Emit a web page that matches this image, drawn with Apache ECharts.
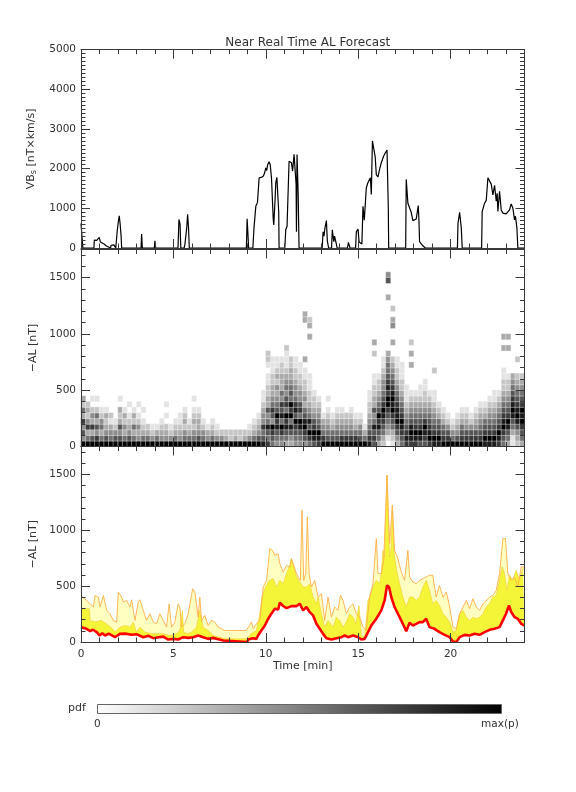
<!DOCTYPE html>
<html><head><meta charset="utf-8">
<script src="https://cdn.jsdelivr.net/npm/echarts@6.0.0/dist/echarts.min.js"></script>
<style>html,body{margin:0;padding:0;background:#fff}#c{width:576px;height:792px}</style>
</head><body><div id="c"></div>
<script>
const FONT = 'DejaVu Sans';
const AX = '#3a3a3a';
const TXT = '#333';

const titleText = 'Near Real Time AL Forecast';
const timeName = 'Time [min]';
const vbsName = 'VB{sub|s} [nT×km/s]';
const alName = '−AL [nT]';

// Panel 1: V*Bs [nT x km/s] vs time [min]
const vbsData = [[0,620],[0.05,600],[0.1,0],[0.7,0],[0.72,200],[0.78,170],[0.85,190],[0.92,150],[0.99,270],[1.05,150],[1.15,120],[1.25,100],[1.3,80],[1.38,50],[1.42,0],[1.6,0],[1.63,70],[1.7,60],[1.78,80],[1.84,60],[1.88,0],[1.93,0],[1.96,430],[2.03,700],[2.07,810],[2.12,600],[2.17,300],[2.2,0],[3.25,0],[3.28,350],[3.32,0],[3.97,0],[4.0,180],[4.04,0],[5.25,0],[5.3,720],[5.36,600],[5.4,0],[5.58,0],[5.62,80],[5.68,60],[5.72,500],[5.77,850],[5.82,500],[5.86,0],[6.35,0],[6.38,40],[6.42,0],[8.95,0],[8.99,735],[9.04,300],[9.07,0],[9.3,0],[9.36,500],[9.46,1050],[9.55,1150],[9.64,1770],[9.75,1780],[9.86,1810],[9.92,1870],[10.0,2020],[10.05,1950],[10.1,2100],[10.18,2175],[10.24,2100],[10.31,1760],[10.4,750],[10.43,580],[10.5,1200],[10.54,1640],[10.6,1780],[10.67,1760],[10.7,900],[10.72,0],[11.03,0],[11.08,460],[11.15,550],[11.26,2190],[11.33,2150],[11.39,2150],[11.45,1940],[11.48,2100],[11.53,2360],[11.6,2350],[11.64,1600],[11.66,410],[11.69,2360],[11.75,1400],[11.8,0],[13.05,0],[13.1,410],[13.15,300],[13.2,500],[13.28,690],[13.33,180],[13.4,0],[13.56,0],[13.6,460],[13.68,160],[13.72,300],[13.77,350],[13.82,100],[13.86,0],[14.42,0],[14.47,140],[14.52,100],[14.56,0],[14.86,0],[14.9,410],[14.99,480],[15.05,150],[15.12,180],[15.2,100],[15.26,1050],[15.33,700],[15.44,1520],[15.52,1640],[15.6,1650],[15.66,1770],[15.71,1350],[15.77,2700],[15.86,2650],[15.92,2300],[15.98,1850],[16.07,1790],[16.16,1990],[16.25,2150],[16.3,2130],[16.38,2320],[16.47,2400],[16.56,2470],[16.61,2440],[16.63,1000],[16.65,0],[17.57,0],[17.6,1730],[17.69,1130],[17.78,1120],[17.87,900],[17.96,690],[18.05,680],[18.14,730],[18.2,720],[18.25,1070],[18.29,680],[18.32,160],[18.38,120],[18.47,70],[18.54,40],[18.63,0],[20.37,0],[20.4,620],[20.49,900],[20.58,500],[20.63,0],[21.68,0],[21.71,920],[21.84,1130],[21.93,1200],[22.02,1770],[22.11,1800],[22.2,1610],[22.29,1340],[22.38,1580],[22.47,1180],[22.52,1380],[22.56,920],[22.65,1430],[22.74,960],[22.83,880],[22.92,830],[23.01,860],[23.1,840],[23.19,960],[23.28,1110],[23.37,1010],[23.46,710],[23.51,800],[23.59,500],[23.64,0],[24,0]];

// Panel 3: forecast -AL [nT]: median (red), inner band top (yellow), outer band top (pale yellow / orange)
const alMedian = [[0,133],[0.3,118],[0.5,97],[0.65,110],[0.85,88],[1.0,58],[1.15,79],[1.3,58],[1.5,75],[1.84,43],[2.1,73],[2.38,75],[2.75,65],[3.0,70],[3.37,43],[3.65,55],[3.91,34],[4.2,43],[4.45,48],[4.72,22],[5.0,28],[5.26,22],[5.53,43],[5.8,37],[6.07,43],[6.34,58],[6.61,43],[6.88,28],[7.15,37],[7.43,25],[7.7,13],[7.78,0],[8.99,0],[9.05,22],[9.3,34],[9.49,28],[9.58,58],[9.76,103],[9.95,148],[10.13,208],[10.31,256],[10.49,298],[10.67,290],[10.76,352],[10.94,322],[11.12,303],[11.39,321],[11.66,321],[11.84,343],[12.02,283],[12.2,313],[12.38,267],[12.56,238],[12.74,163],[12.92,118],[13.1,73],[13.28,34],[13.55,22],[13.82,34],[14.09,43],[14.27,58],[14.45,43],[14.72,58],[15.0,43],[15.17,22],[15.35,28],[15.53,88],[15.71,148],[15.98,208],[16.25,283],[16.43,372],[16.56,507],[16.67,493],[16.79,403],[16.97,313],[17.24,223],[17.46,148],[17.6,97],[17.78,172],[17.96,148],[18.14,163],[18.32,178],[18.5,178],[18.68,208],[18.86,133],[19.13,118],[19.4,88],[19.68,64],[19.95,43],[20.13,4],[20.31,0],[20.49,43],[20.76,64],[21.03,58],[21.3,73],[21.57,64],[21.84,88],[22.11,109],[22.38,118],[22.65,133],[22.83,193],[23.0,253],[23.16,327],[23.28,268],[23.46,223],[23.64,208],[23.82,163],[24,148]];

const alInner = [[0,298],[0.45,298],[0.5,190],[0.8,180],[1.1,193],[1.4,160],[1.7,120],[1.84,88],[2.1,133],[2.4,148],[2.65,133],[2.83,178],[3.0,88],[3.2,133],[3.46,88],[3.9,73],[4.45,73],[4.8,58],[5.15,73],[5.35,103],[5.49,283],[5.55,88],[5.75,73],[5.98,88],[6.25,133],[6.43,283],[6.6,133],[6.88,103],[7.15,58],[7.5,43],[7.78,28],[8.99,28],[9.2,73],[9.49,103],[9.65,222],[9.8,402],[9.98,492],[10.2,552],[10.4,567],[10.58,492],[10.76,552],[10.94,522],[11.12,612],[11.3,686],[11.39,746],[11.48,731],[11.66,582],[11.84,537],[12.02,492],[12.2,492],[12.38,522],[12.56,402],[12.74,342],[12.83,402],[13.01,253],[13.19,133],[13.37,193],[13.64,133],[13.82,222],[14.0,193],[14.18,133],[14.36,178],[14.54,253],[14.72,222],[14.87,163],[15.04,327],[15.17,58],[15.35,43],[15.53,372],[15.62,402],[15.8,492],[15.98,552],[16.16,522],[16.25,612],[16.34,821],[16.43,761],[16.56,1493],[16.61,1209],[16.7,761],[16.79,851],[16.85,1224],[16.92,821],[17.06,657],[17.24,522],[17.42,402],[17.6,313],[17.78,402],[17.96,402],[18.14,372],[18.32,402],[18.5,492],[18.68,552],[18.86,462],[19.04,342],[19.22,372],[19.4,327],[19.59,253],[19.77,222],[19.95,178],[20.13,88],[20.31,103],[20.49,253],[20.67,283],[20.85,222],[21.03,193],[21.21,222],[21.39,208],[21.57,222],[21.75,253],[21.93,313],[22.11,342],[22.29,402],[22.47,417],[22.65,552],[22.79,672],[22.92,612],[23.05,462],[23.19,597],[23.37,552],[23.55,642],[23.73,552],[23.91,657],[24,657]];

const alOuter = [[0,417],[0.3,372],[0.49,342],[0.67,313],[0.76,417],[0.94,402],[1.03,313],[1.21,417],[1.39,283],[1.57,253],[1.75,193],[1.93,178],[2.02,447],[2.2,402],[2.29,357],[2.47,372],[2.65,313],[2.74,378],[2.92,193],[3.1,357],[3.19,378],[3.37,283],[3.55,193],[3.73,253],[3.91,178],[4.09,163],[4.27,253],[4.45,193],[4.63,133],[4.77,342],[4.9,133],[5.08,178],[5.26,342],[5.35,313],[5.44,133],[5.62,163],[5.8,253],[6.04,477],[6.16,447],[6.25,432],[6.34,222],[6.43,402],[6.52,193],[6.7,238],[6.88,148],[7.06,193],[7.24,178],[7.43,133],[7.61,118],[7.78,103],[8.95,103],[9.05,133],[9.23,178],[9.32,118],[9.49,163],[9.68,193],[9.86,492],[10.04,552],[10.22,836],[10.36,821],[10.49,776],[10.67,791],[10.76,701],[10.94,627],[11.12,686],[11.3,672],[11.39,746],[11.48,746],[11.66,612],[11.75,582],[11.87,552],[11.96,1180],[12.05,552],[12.16,612],[12.25,1119],[12.34,612],[12.47,492],[12.65,552],[12.83,402],[13.01,432],[13.19,193],[13.37,402],[13.55,222],[13.73,313],[13.91,283],[14.04,417],[14.18,372],[14.36,253],[14.54,313],[14.72,342],[14.9,253],[15.08,222],[15.26,133],[15.44,103],[15.62,402],[15.8,522],[15.98,926],[16.07,612],[16.25,612],[16.38,731],[16.56,1493],[16.7,881],[16.85,1224],[16.97,821],[17.15,746],[17.33,627],[17.51,552],[17.69,821],[17.78,582],[17.96,537],[18.14,522],[18.32,552],[18.5,567],[18.68,582],[18.86,597],[19.04,597],[19.22,402],[19.4,507],[19.59,402],[19.77,447],[19.95,313],[20.13,133],[20.31,118],[20.49,253],[20.67,313],[20.85,372],[21.03,298],[21.21,387],[21.39,313],[21.57,283],[21.75,342],[21.93,372],[22.11,402],[22.29,417],[22.47,462],[22.65,612],[22.83,926],[22.97,926],[23.1,612],[23.28,552],[23.46,582],[23.64,492],[23.82,672],[23.96,672],[24,672]];

// Panel 2: pdf of -AL, one string per 0.25-min column, one digit per 50-nT row from 0 upward (0/. = empty .. 9 = max)
const pdfBinMinutes = 0.25;
const pdfBinNT = 50;
const pdfRowCount = 35;
const pdfColumns = [
"946473523","95374232","9637342.1","9746352.1","9535421","9643231","954312","96421",
"9646323.1","9534231","964321.1","9535231","943421.1","95321.1","9532","9421",
"9531","94321","9432.1.1","9421","95321","943211","9542321","95321",
"9542321.1","9643321","95421","9431","95321","9421","942","932",
"922","932","922","932","9421","95321","964321","8657443211",
"7568546332211.1","5679467543322111","4568796543423211","4579586745333221","35687957645432111","3468597956543322","4567968754432211","456895764432211",
"46798653432211","5796854322111","6897643221","789654321","975431","9654321.1","965321","9654321",
"9754321","975432","9754321","975321","965421","9531","8765432211","6768546332211",
"3568796543221","2356789765443211",".1345679978765543","1235679898765432","3467988765432211","567897654322111","78765432111","7898654321",
"7897654321","68976543211","678975432211","7987654321","8976543211","89765321","9765321","976421",
"95421","964321","9765321","9764321","976421","9764321","97654321","89765321",
"897654321","8976543211","7897654321","56798765432211","3568976543221","1135689876543","2346898765432","3567989765432"
];
// isolated pdf cells above the main spread: [time min, -AL nT, level]
const pdfOutliers = [[10.2,840,2],[10.2,790,2],[11.1,850,2],[12.0,1175,3],[12.0,1110,3],[12.0,780,3],[12.25,1140,2],[12.25,1060,3],[12.25,990,3],[15.85,930,3],[15.85,820,2],[16.55,1500,4],[16.55,1460,6],[16.55,1330,3],[16.8,1230,2],[16.8,1130,3],[16.8,1080,4],[16.8,930,3],[17.8,900,2],[17.8,810,3],[17.8,700,3],[19.0,690,2],[22.95,950,3],[23.2,950,3],[22.95,870,3],[23.2,870,3],[23.55,760,2]];

const colorbarLabels = ['pdf', '0', 'max(p)'];

// ---- build ----
const heat = [];
pdfColumns.forEach((s, c) => {
  for (let r = 0; r < s.length; r++) { const ch = s[r]; if (ch !== '.' && ch !== '0') heat.push([c, r, +ch]); }
});
pdfOutliers.forEach(([t, al, lv]) => heat.push([Math.floor(t / pdfBinMinutes), Math.floor(al / pdfBinNT), lv]));
const colCats = pdfColumns.map((_, i) => i);
const rowCats = Array.from({length: pdfRowCount}, (_, i) => i);

const PL = 81, PW = 443.5;
const grids = [
  {left: PL, width: PW, top: 49.7, height: 198.3},
  {left: PL, width: PW, top: 249.5, height: 197},
  {left: PL, width: PW, top: 446.5, height: 195.5},
  {left: PL, width: PW, top: 249.5, height: 197}
];

const lineMajor = {show: true, onZero: false, lineStyle: {color: AX, width: 1}};
const noLine = {show: false, onZero: false};
const tickMajor = {show: true, inside: true, length: 9, lineStyle: {color: AX, width: 1}};
const tickMinor = {show: true, inside: true, length: 4.5, lineStyle: {color: AX, width: 1}};
const lbl = {color: TXT, fontSize: 10.5, fontFamily: FONT, formatter: v => String(v)};

function xAxesFor(g, showLabel) {
  const base = {gridIndex: g, type: 'value', min: 0, max: 24, splitLine: {show: false}, z: 10, silent: true};
  return [
    Object.assign({}, base, {position: 'bottom', interval: 5, axisLine: lineMajor, axisTick: tickMajor,
      axisLabel: Object.assign({show: showLabel, showMaxLabel: false, margin: 7}, lbl),
      name: showLabel ? timeName : '', nameLocation: 'middle', nameGap: 19,
      nameTextStyle: {color: TXT, fontSize: 11, fontFamily: FONT}}),
    Object.assign({}, base, {position: 'bottom', interval: 1, axisLine: noLine, axisTick: tickMinor, axisLabel: {show: false}}),
    Object.assign({}, base, {position: 'top', interval: 5, axisLine: lineMajor, axisTick: tickMajor, axisLabel: {show: false}}),
    Object.assign({}, base, {position: 'top', interval: 1, axisLine: noLine, axisTick: tickMinor, axisLabel: {show: false}})
  ];
}
function yAxesFor(g, max, interval, minor, name) {
  const base = {gridIndex: g, type: 'value', min: 0, max: max, splitLine: {show: false}, z: 10, silent: true};
  return [
    Object.assign({}, base, {position: 'left', interval: interval, axisLine: lineMajor, axisTick: tickMajor,
      axisLabel: Object.assign({show: true, showMaxLabel: max % interval === 0, margin: 5}, lbl),
      name: name, nameLocation: 'middle', nameGap: 37,
      nameTextStyle: {color: TXT, fontSize: 11, fontFamily: FONT,
        rich: {sub: {fontSize: 8, fontFamily: FONT, color: TXT, verticalAlign: 'bottom', padding: [6, 0, 0, 0]}}}}),
    Object.assign({}, base, {position: 'left', interval: minor, axisLine: noLine, axisTick: tickMinor, axisLabel: {show: false}}),
    Object.assign({}, base, {position: 'right', interval: interval, axisLine: lineMajor, axisTick: tickMajor, axisLabel: {show: false}}),
    Object.assign({}, base, {position: 'right', interval: minor, axisLine: noLine, axisTick: tickMinor, axisLabel: {show: false}})
  ];
}

const xAxis = [].concat(xAxesFor(0, false), xAxesFor(1, false), xAxesFor(2, true),
  [{gridIndex: 3, type: 'category', data: colCats, show: false}]);
const yAxis = [].concat(yAxesFor(0, 5000, 1000, 100, vbsName), yAxesFor(1, 1750, 500, 100, alName),
  yAxesFor(2, 1750, 500, 100, alName),
  [{gridIndex: 3, type: 'category', data: rowCats, show: false}]);

const P3 = {xAxisIndex: 8, yAxisIndex: 8, type: 'line', showSymbol: false, symbol: 'none', silent: true};

const option = {
  animation: false,
  backgroundColor: '#fff',
  title: {text: titleText, left: PL + PW / 2, top: 32, textAlign: 'center',
    textStyle: {fontSize: 12, fontWeight: 'normal', color: TXT, fontFamily: FONT}},
  grid: grids,
  xAxis: xAxis,
  yAxis: yAxis,
  visualMap: {show: false, type: 'continuous', min: 0, max: 9, seriesIndex: 1,
    inRange: {color: ['#ffffff', '#000000']}},
  series: [
    {type: 'line', xAxisIndex: 0, yAxisIndex: 0, data: vbsData, showSymbol: false, symbol: 'none',
      lineStyle: {color: '#000', width: 1.2}, silent: true, z: 3},
    {type: 'heatmap', xAxisIndex: 12, yAxisIndex: 12, data: heat, silent: true, progressive: 0,
      itemStyle: {borderWidth: 0.7, borderColor: 'rgba(255,255,255,0.55)'}},
    Object.assign({}, P3, {data: alOuter, lineStyle: {width: 0}, areaStyle: {color: '#ffffc2', opacity: 1}, z: 2}),
    Object.assign({}, P3, {data: alInner, lineStyle: {color: '#f2d23a', width: 0.7}, areaStyle: {color: '#f4f438', opacity: 1}, z: 3}),
    Object.assign({}, P3, {data: alMedian, lineStyle: {width: 0}, areaStyle: {color: '#ffffff', opacity: 1}, z: 4}),
    Object.assign({}, P3, {data: alOuter, lineStyle: {color: '#ffb04a', width: 0.9}, z: 5}),
    Object.assign({}, P3, {data: alMedian, lineStyle: {color: '#ff0000', width: 2.6}, z: 6})
  ],
  graphic: [
    {type: 'rect', left: 97, top: 704, shape: {width: 404, height: 9},
      style: {fill: new echarts.graphic.LinearGradient(0, 0, 1, 0, [{offset: 0, color: '#ffffff'}, {offset: 1, color: '#000000'}]),
        stroke: '#666', lineWidth: 1}},
    {type: 'text', left: 68, top: 703, style: {text: colorbarLabels[0], fill: TXT, font: '11px "DejaVu Sans"'}},
    {type: 'text', left: 94, top: 719, style: {text: colorbarLabels[1], fill: TXT, font: '10.5px "DejaVu Sans"'}},
    {type: 'text', left: 481, top: 719, style: {text: colorbarLabels[2], fill: TXT, font: '10.5px "DejaVu Sans"'}}
  ]
};

const chart = echarts.init(document.getElementById('c'), null, {renderer: 'canvas'});
chart.setOption(option);
</script></body></html>
